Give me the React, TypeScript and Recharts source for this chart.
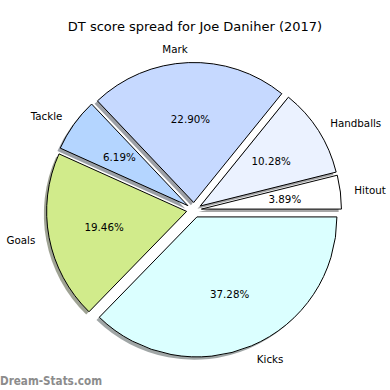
import React from 'react';
import { PieChart, Pie, Cell } from 'recharts';

const categories = ['Hitout', 'Handballs', 'Mark', 'Tackle', 'Goals', 'Kicks'];
const shares = [3.89, 10.28, 22.9, 6.19, 19.46, 37.28];
const colors = ['#ffffff', '#ebf2ff', '#c6d9ff', '#b4d5ff', '#d1eb8b', '#dbffff'];

const data = categories.map((name, i) => ({ name, value: shares[i] }));

const CX = 194;
const CY = 210;
const R = 140;
const EXPLODE = 7.5;
const SH = 2.8;
const RAD = Math.PI / 180;
const FONT = '"DejaVu Sans", Verdana, sans-serif';

const total = shares.reduce((a, b) => a + b, 0);
const mids: number[] = [];
{
  let acc = 0;
  shares.forEach((v) => {
    const ang = (360 * v) / total;
    mids.push(acc + ang / 2);
    acc += ang;
  });
}

function shade(hex: string) {
  const n = parseInt(hex.slice(1), 16);
  const r = Math.round(((n >> 16) & 255) * 0.3);
  const g = Math.round(((n >> 8) & 255) * 0.3);
  const b = Math.round((n & 255) * 0.3);
  return `rgb(${r},${g},${b})`;
}

const makeLabel = (target: number) => (props: any) => {
  const { cx, cy, midAngle, outerRadius, index, value } = props;
  if (index !== target) return null;
  const c = Math.cos(-midAngle * RAD);
  const s = Math.sin(-midAngle * RAD);
  const lx = cx + outerRadius * 1.1 * c;
  const ly = cy + outerRadius * 1.1 * s;
  const px = cx + outerRadius * 0.6 * c;
  const py = cy + outerRadius * 0.6 * s;
  return (
    <g>
      <text x={lx} y={ly} textAnchor={c > 0 ? 'start' : 'end'} dominantBaseline="central" fontSize={10.3} fontFamily={FONT} fill="#000">
        {categories[index]}
      </text>
      <text x={px} y={py} textAnchor="middle" dominantBaseline="central" fontSize={10.3} fontFamily={FONT} fill="#000">
        {Number(value).toFixed(2)}%
      </text>
    </g>
  );
};

export default function App() {
  return (
    <div style={{ position: 'absolute', left: 0, top: 0, width: 390, height: 390, background: '#fff' }}>
      <PieChart width={390} height={390} margin={{ top: 0, right: 0, bottom: 0, left: 0 }}>
        {categories.map((_, i) => (
          <Pie
            key={'sh' + i}
            data={data}
            dataKey="value"
            cx={CX + EXPLODE * Math.cos(mids[i] * RAD) - SH}
            cy={CY - EXPLODE * Math.sin(mids[i] * RAD) + SH}
            outerRadius={R}
            startAngle={0}
            endAngle={360}
            isAnimationActive={false}
            labelLine={false}
            stroke="none"
          >
            {data.map((_, j) => (
              <Cell key={j} fill={j === i ? shade(colors[j]) : 'none'} fillOpacity={0.5} stroke="none" />
            ))}
          </Pie>
        ))}
        {categories.map((_, i) => (
          <Pie
            key={'p' + i}
            data={data}
            dataKey="value"
            cx={CX + EXPLODE * Math.cos(mids[i] * RAD)}
            cy={CY - EXPLODE * Math.sin(mids[i] * RAD)}
            outerRadius={R}
            startAngle={0}
            endAngle={360}
            isAnimationActive={false}
            labelLine={false}
            label={makeLabel(i)}
          >
            {data.map((_, j) => (
              <Cell
                key={j}
                fill={j === i ? colors[j] : 'none'}
                stroke={j === i ? '#000' : 'none'}
                strokeWidth={1}
              />
            ))}
          </Pie>
        ))}
      </PieChart>
      <svg width={390} height={390} style={{ position: 'absolute', left: 0, top: 0, pointerEvents: 'none' }}>
        <text x={195} y={31} textAnchor="middle" fontSize={13} fontFamily={FONT} fill="#000">
          DT score spread for Joe Daniher (2017)
        </text>
        <text x={0} y={385} textAnchor="start" fontSize={11.7} fontFamily={FONT} fill="#8c8c8c" fontWeight="bold" textLength={102} lengthAdjust="spacingAndGlyphs">
          Dream-Stats.com
        </text>
      </svg>
    </div>
  );
}
